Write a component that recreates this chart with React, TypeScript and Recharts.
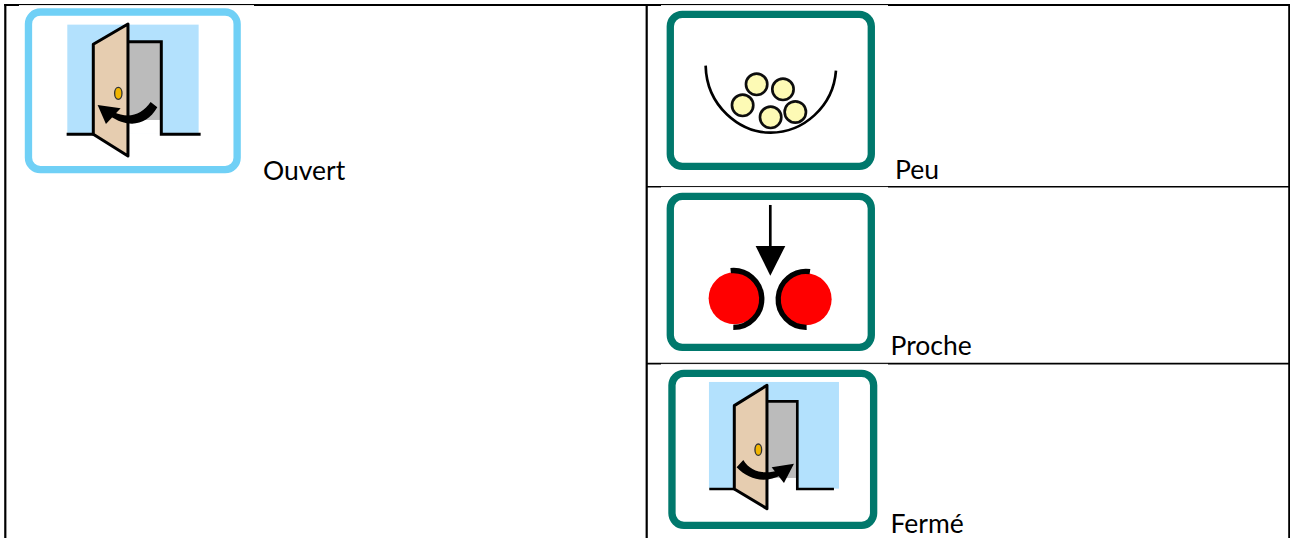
import * as React from "react";
import { ScatterChart, Scatter, XAxis, YAxis, ReferenceLine } from "recharts";

const WIDTH = 1290;
const HEIGHT = 538;

const TEAL = "#04786C";
const SKY = "#6FD0F6";

// pictograms (centre of each frame)
const words = ["Ouvert", "Peu", "Proche", "Fermé"];
const iconKinds = ["open", "few", "close", "shut"];
const iconX = [132.8, 770.8, 770.8, 772.8];
const iconY = [90.8, 90.3, 271.8, 449.3];
const wordX = [263, 895, 890.5, 890.5];
const wordY = [179.5, 179, 355, 533];

// table rules
const columnRules = [5.3, 646.7, 1289.3];
const rowRules = [
  { y: 5, from: 4.2, to: 646, w: 2 },
  { y: 5, from: 646, to: 1290, w: 2 },
  { y: 186.7, from: 646, to: 1290, w: 1.6 },
  { y: 363.6, from: 646, to: 1290, w: 1.6 },
];
const whiteGaps = [
  { y: 5.6, from: 19, to: 254 },
  { y: 5.6, from: 661, to: 888 },
  { y: 187.4, from: 661, to: 888 },
  { y: 364.4, from: 661, to: 888 },
];

const icons = iconKinds.map((kind, i) => ({ x: iconX[i], y: iconY[i], kind }));
const labels = words.map((word, i) => ({ x: wordX[i], y: wordY[i], word }));

// artwork is written in 3x units with (0,0) at the frame centre
const Frame = ({ color, w, h }: any) => (
  <rect x={-w / 2 + 11} y={-h / 2 + 11} width={w - 22} height={h - 22} rx={36} fill="#fff" stroke={color} strokeWidth={22} />
);

const OpenDoor = () => (
  <g transform="translate(-398.5,-272.5)">
    <rect x={202} y={74} width={394} height={328} fill="#B3E1FD" />
    <rect x={386} y={125} width={98} height={277} fill="#fff" />
    <rect x={386} y={125} width={98} height={235} fill="#BBBBBB" />
    <path d="M386,125 H484 V403 H602 M200,403 H280" fill="none" stroke="#000" strokeWidth={9} />
    <path d="M280,133 L384,72 V468 L280,403 Z" fill="#E6CDB0" stroke="#000" strokeWidth={9} strokeLinejoin="round" />
    <ellipse cx={355} cy={280} rx={11} ry={18} fill="#F0B400" stroke="#333" strokeWidth={4} />
    <path d="M472,322 C440,378 385,385 330,348 L340,335 C385,358 425,345 452,306 Z" fill="#000" />
    <path d="M293,315 L362,325 L318,372 Z" fill="#000" />
  </g>
);

const ShutDoor = () => (
  <g transform="translate(-398.5,-274)">
    <rect x={207} y={72} width={390} height={320} fill="#B3E1FD" />
    <rect x={383} y={133} width={89} height={260} fill="#fff" />
    <rect x={383} y={133} width={89} height={227} fill="#BBBBBB" />
    <path d="M383,130 H472 V393 H582 M208,393 H285" fill="none" stroke="#000" strokeWidth={8} />
    <path d="M283,143 L381,82 V452 L283,393 Z" fill="#E6CDB0" stroke="#000" strokeWidth={9} strokeLinejoin="round" />
    <ellipse cx={355} cy={275} rx={10} ry={17} fill="#F0B400" stroke="#333" strokeWidth={4} />
    <path d="M290,328 L310,306 C330,340 370,352 420,335 L425,350 C375,378 325,365 290,328 Z" fill="#000" />
    <path d="M462,317 L395,328 L432,375 Z" fill="#000" />
  </g>
);

const FewBalls = () => (
  <g transform="translate(-392.5,-271)">
    <path d="M197,197 C200,320 300,398 392,398 C490,398 580,320 588,212" fill="none" stroke="#000" strokeWidth={8} />
    {[[350, 253], [429, 268], [308, 316], [392, 352], [466, 336]].map(([cx, cy]) => (
      <circle key={`${cx}`} cx={cx} cy={cy} r={32} fill="#FDFAB5" stroke="#111" strokeWidth={8} />
    ))}
  </g>
);

const CloseBalls = () => (
  <g transform="translate(-392.5,-275.5)">
    <circle cx={284} cy={355} r={78} fill="#FF0000" />
    <circle cx={497} cy={358} r={78} fill="#FF0000" />
    <path d="M272,272 A85.2,85.2 0 1 1 280,442" fill="none" stroke="#000" strokeWidth={16} />
    <path d="M510,275 A83.9,83.9 0 1 0 500,442" fill="none" stroke="#000" strokeWidth={16} />
    <path d="M391,75 V200" stroke="#000" strokeWidth={8} />
    <path d="M347,198 H436 L391,287 Z" fill="#000" />
  </g>
);

const Pictogram = ({ cx, cy, payload }: any) => {
  const kind = payload.kind;
  const size: any = {
    open: { w: 648, h: 495, color: SKY },
    few: { w: 625, h: 478, color: TEAL },
    close: { w: 625, h: 475, color: TEAL },
    shut: { w: 627, h: 478, color: TEAL },
  }[kind];
  return (
    <g transform={`translate(${cx},${cy}) scale(${1 / 3})`}>
      <filter id={`soft-${kind}`} x="-5%" y="-5%" width="110%" height="110%">
        <feGaussianBlur stdDeviation={1.2} />
      </filter>
      <g filter={`url(#soft-${kind})`}>
        <Frame {...size} />
        {kind === "open" && <OpenDoor />}
        {kind === "few" && <FewBalls />}
        {kind === "close" && <CloseBalls />}
        {kind === "shut" && <ShutDoor />}
      </g>
    </g>
  );
};

const Word = ({ cx, cy, payload }: any) => (
  <text x={cx} y={cy} fontFamily="Lato, 'Open Sans', sans-serif" fontSize={26.5} fill="#000">
    {payload.word}
  </text>
);

export default function App() {
  return (
    <div style={{ position: "absolute", left: 0, top: 0, width: WIDTH, height: HEIGHT, background: "#fff", overflow: "hidden" }}>
      <ScatterChart width={WIDTH} height={HEIGHT} margin={{ top: 0, right: 0, bottom: 0, left: 0 }}>
        <XAxis type="number" dataKey="x" domain={[0, WIDTH]} hide />
        <YAxis type="number" dataKey="y" domain={[0, HEIGHT]} reversed hide />
        {columnRules.map((x) => (
          <ReferenceLine
            key={`c${x}`}
            segment={[{ x, y: 4 }, { x, y: HEIGHT }]}
            stroke="#000"
            strokeWidth={2.2}
          />
        ))}
        {rowRules.map((r) => (
          <ReferenceLine
            key={`r${r.y}-${r.from}`}
            segment={[{ x: r.from, y: r.y }, { x: r.to, y: r.y }]}
            stroke="#000"
            strokeWidth={r.w}
          />
        ))}
        {whiteGaps.map((g) => (
          <ReferenceLine
            key={`g${g.y}-${g.from}`}
            segment={[{ x: g.from, y: g.y }, { x: g.to, y: g.y }]}
            stroke="#fff"
            strokeWidth={1}
          />
        ))}
        <Scatter data={icons} shape={<Pictogram />} isAnimationActive={false} />
        <Scatter data={labels} shape={<Word />} isAnimationActive={false} />
      </ScatterChart>
    </div>
  );
}
